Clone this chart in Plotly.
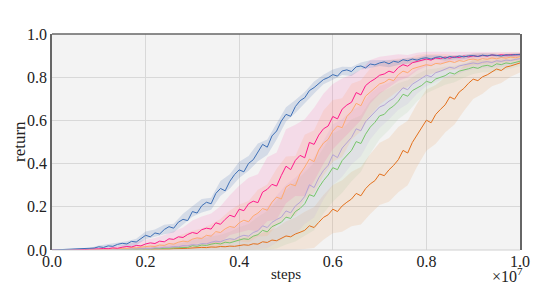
import plotly.graph_objects as go

# x in steps (101 points, 0 .. 1e7)
steps = [i * 1e5 for i in range(101)]
band_steps = [i * 2e5 for i in range(51)]

blue = [0.000,0.001,0.002,0.001,0.003,0.004,0.003,0.006,0.005,0.009,
        0.015,0.012,0.019,0.017,0.026,0.031,0.028,0.040,0.037,0.052,
        0.068,0.061,0.079,0.074,0.095,0.108,0.101,0.129,0.142,0.136,
        0.178,0.171,0.205,0.221,0.214,0.262,0.285,0.274,0.318,0.349,
        0.371,0.362,0.401,0.418,0.452,0.489,0.476,0.528,0.551,0.597,
        0.628,0.619,0.664,0.691,0.705,0.738,0.752,0.771,0.789,0.798,
        0.812,0.805,0.829,0.834,0.826,0.848,0.852,0.843,0.861,0.857,
        0.866,0.871,0.862,0.874,0.869,0.881,0.876,0.884,0.879,0.887,
        0.890,0.884,0.892,0.895,0.887,0.896,0.891,0.898,0.894,0.899,
        0.900,0.896,0.902,0.899,0.903,0.901,0.898,0.904,0.902,0.905,
        0.904]
pink = [0.000,0.000,0.001,0.001,0.002,0.001,0.003,0.002,0.004,0.003,
        0.005,0.007,0.006,0.010,0.008,0.013,0.016,0.014,0.021,0.019,
        0.028,0.033,0.030,0.041,0.038,0.052,0.049,0.061,0.058,0.072,
        0.081,0.076,0.094,0.101,0.097,0.126,0.119,0.142,0.161,0.153,
        0.189,0.182,0.214,0.226,0.219,0.268,0.281,0.304,0.296,0.345,
        0.388,0.372,0.415,0.438,0.427,0.498,0.489,0.532,0.561,0.574,
        0.618,0.607,0.652,0.671,0.684,0.729,0.718,0.761,0.779,0.792,
        0.809,0.815,0.828,0.821,0.845,0.858,0.851,0.867,0.872,0.878,
        0.884,0.879,0.889,0.886,0.893,0.888,0.895,0.891,0.898,0.894,
        0.899,0.896,0.901,0.898,0.903,0.900,0.904,0.901,0.905,0.903,
        0.906]
peach = [0.000,0.000,0.000,0.001,0.001,0.000,0.002,0.001,0.002,0.003,
         0.003,0.004,0.003,0.006,0.005,0.008,0.007,0.011,0.010,0.013,
         0.015,0.018,0.016,0.023,0.021,0.030,0.027,0.036,0.041,0.038,
         0.050,0.056,0.053,0.068,0.064,0.085,0.081,0.098,0.109,0.104,
         0.126,0.138,0.131,0.158,0.171,0.192,0.184,0.221,0.245,0.236,
         0.291,0.305,0.297,0.352,0.384,0.421,0.409,0.463,0.495,0.512,
         0.551,0.574,0.566,0.618,0.641,0.679,0.668,0.712,0.731,0.748,
         0.769,0.776,0.791,0.784,0.812,0.828,0.821,0.839,0.846,0.851,
         0.858,0.853,0.864,0.861,0.869,0.874,0.868,0.877,0.873,0.881,
         0.884,0.879,0.886,0.883,0.889,0.885,0.891,0.888,0.893,0.890,
         0.895]
lavender = [0.000,0.000,0.000,0.000,0.001,0.000,0.001,0.001,0.000,0.002,
            0.001,0.002,0.002,0.003,0.002,0.004,0.003,0.005,0.006,0.005,
            0.008,0.007,0.010,0.009,0.013,0.012,0.016,0.015,0.020,0.019,
            0.025,0.023,0.030,0.028,0.036,0.041,0.038,0.047,0.052,0.049,
            0.061,0.068,0.064,0.081,0.089,0.112,0.104,0.128,0.141,0.152,
            0.181,0.172,0.204,0.221,0.248,0.302,0.289,0.334,0.368,0.392,
            0.441,0.428,0.472,0.498,0.521,0.561,0.552,0.594,0.618,0.637,
            0.662,0.671,0.689,0.702,0.725,0.751,0.742,0.768,0.781,0.797,
            0.809,0.802,0.821,0.828,0.836,0.846,0.841,0.852,0.857,0.861,
            0.866,0.862,0.869,0.872,0.868,0.876,0.873,0.879,0.877,0.882,
            0.886]
green = [0.000,0.000,0.000,0.000,0.000,0.001,0.000,0.001,0.000,0.001,
         0.001,0.000,0.002,0.001,0.002,0.002,0.003,0.002,0.004,0.003,
         0.005,0.004,0.006,0.007,0.006,0.009,0.010,0.009,0.013,0.012,
         0.020,0.017,0.023,0.021,0.027,0.031,0.028,0.036,0.033,0.041,
         0.046,0.052,0.049,0.064,0.071,0.091,0.084,0.108,0.119,0.128,
         0.152,0.146,0.178,0.192,0.214,0.256,0.248,0.289,0.321,0.347,
         0.381,0.372,0.414,0.438,0.461,0.502,0.493,0.536,0.569,0.591,
         0.621,0.628,0.652,0.667,0.689,0.721,0.712,0.738,0.751,0.762,
         0.781,0.774,0.792,0.799,0.807,0.821,0.815,0.828,0.832,0.839,
         0.846,0.841,0.851,0.855,0.849,0.862,0.858,0.866,0.863,0.870,
         0.874]
orange = [0.000,0.000,0.000,0.000,0.000,0.000,0.001,0.000,0.000,0.001,
          0.000,0.001,0.001,0.000,0.002,0.001,0.002,0.001,0.002,0.003,
          0.003,0.002,0.004,0.003,0.005,0.004,0.006,0.005,0.007,0.008,
          0.010,0.009,0.012,0.011,0.014,0.013,0.016,0.015,0.018,0.017,
          0.020,0.024,0.022,0.029,0.027,0.038,0.035,0.046,0.043,0.056,
          0.065,0.061,0.074,0.082,0.091,0.112,0.104,0.128,0.151,0.163,
          0.189,0.178,0.204,0.221,0.236,0.262,0.251,0.284,0.306,0.321,
          0.352,0.344,0.371,0.392,0.418,0.461,0.449,0.498,0.531,0.562,
          0.601,0.589,0.628,0.651,0.672,0.709,0.698,0.731,0.748,0.772,
          0.791,0.784,0.802,0.811,0.826,0.838,0.831,0.847,0.852,0.858,
          0.866]

# band half-widths (51 points, every 2e5 steps)
blue_w = [0.000,0.001,0.002,0.003,0.004,0.006,0.008,0.010,0.012,0.015,
          0.018,0.016,0.022,0.020,0.026,0.024,0.031,0.028,0.035,0.033,
          0.038,0.034,0.041,0.036,0.039,0.033,0.030,0.026,0.028,0.022,
          0.024,0.019,0.021,0.016,0.018,0.014,0.016,0.012,0.014,0.011,
          0.012,0.010,0.011,0.009,0.010,0.008,0.009,0.007,0.008,0.007,0.008]
pink_w = [0.000,0.001,0.002,0.003,0.004,0.006,0.008,0.010,0.013,0.016,
          0.020,0.026,0.031,0.038,0.046,0.055,0.061,0.072,0.084,0.092,
          0.108,0.121,0.132,0.148,0.155,0.171,0.165,0.178,0.169,0.162,
          0.151,0.142,0.128,0.117,0.101,0.086,0.074,0.061,0.052,0.041,
          0.034,0.029,0.024,0.021,0.018,0.016,0.014,0.013,0.012,0.011,0.010]
peach_w = [0.000,0.000,0.001,0.002,0.003,0.004,0.005,0.007,0.009,0.011,
           0.014,0.018,0.022,0.027,0.033,0.039,0.046,0.055,0.063,0.074,
           0.085,0.096,0.108,0.119,0.131,0.142,0.138,0.149,0.145,0.151,
           0.143,0.136,0.129,0.118,0.109,0.096,0.087,0.075,0.066,0.057,
           0.049,0.043,0.038,0.034,0.030,0.027,0.025,0.023,0.021,0.020,0.019]
lavender_w = [0.000,0.000,0.001,0.001,0.002,0.003,0.004,0.005,0.006,0.008,
              0.010,0.012,0.015,0.018,0.022,0.026,0.031,0.037,0.044,0.052,
              0.061,0.072,0.084,0.096,0.108,0.121,0.132,0.128,0.139,0.134,
              0.141,0.133,0.125,0.118,0.106,0.097,0.085,0.076,0.066,0.058,
              0.051,0.045,0.040,0.036,0.032,0.029,0.027,0.025,0.023,0.022,0.021]
green_w = [0.000,0.000,0.001,0.001,0.002,0.002,0.003,0.004,0.005,0.007,
           0.009,0.011,0.014,0.017,0.021,0.025,0.030,0.036,0.043,0.051,
           0.060,0.071,0.083,0.097,0.112,0.126,0.139,0.148,0.156,0.152,
           0.158,0.149,0.143,0.131,0.122,0.108,0.097,0.084,0.074,0.063,
           0.055,0.048,0.042,0.038,0.034,0.031,0.028,0.026,0.025,0.023,0.022]
orange_w = [0.000,0.000,0.000,0.001,0.001,0.002,0.002,0.003,0.004,0.005,
            0.006,0.007,0.009,0.011,0.013,0.015,0.018,0.021,0.025,0.029,
            0.034,0.039,0.045,0.052,0.060,0.068,0.077,0.086,0.095,0.104,
            0.112,0.119,0.126,0.133,0.139,0.144,0.148,0.151,0.149,0.146,
            0.142,0.136,0.128,0.117,0.104,0.092,0.079,0.068,0.058,0.050,0.044]

x_ticks = [0, 2e6, 4e6, 6e6, 8e6, 1e7]
x_tick_labels = ["0.0", "0.2", "0.4", "0.6", "0.8", "1.0"]
y_ticks = [0, 0.2, 0.4, 0.6, 0.8, 1.0]
y_tick_labels = ["0.0", "0.2", "0.4", "0.6", "0.8", "1.0"]

series = [
    ("orange", orange, orange_w, "#e3701c", "rgba(235,130,50,0.13)"),
    ("green", green, green_w, "#77c66a", "rgba(150,190,140,0.13)"),
    ("lavender", lavender, lavender_w, "#b5a3d6", "rgba(185,165,220,0.15)"),
    ("peach", peach, peach_w, "#ffaa70", "rgba(255,170,110,0.18)"),
    ("pink", pink, pink_w, "#ff1a8c", "rgba(255,60,160,0.13)"),
    ("blue", blue, blue_w, "#3d6fb6", "rgba(70,110,180,0.18)"),
]

fig = go.Figure()
for name, mean, w, lc, fc in series:
    m2 = mean[::2]
    up = [min(m + d, 0.97) for m, d in zip(m2, w)]
    lo = [max(m - d, 0.0) for m, d in zip(m2, w)]
    fig.add_trace(go.Scatter(
        x=band_steps + band_steps[::-1], y=up + lo[::-1],
        fill="toself", fillcolor=fc, line=dict(width=0),
        mode="lines", hoverinfo="skip", showlegend=False))
for name, mean, w, lc, fc in series:
    fig.add_trace(go.Scatter(
        x=steps, y=mean, mode="lines", name=name,
        line=dict(color=lc, width=1), showlegend=False))

font_family = "Liberation Serif"
fig.update_layout(
    width=532, height=275,
    margin=dict(l=44, r=20, t=26, b=33, autoexpand=False),
    paper_bgcolor="white", plot_bgcolor="#f3f3f3",
    font=dict(family=font_family, size=16, color="#222"),
    xaxis=dict(range=[0, 1e7], tickvals=x_ticks, ticktext=x_tick_labels,
               showgrid=True, gridcolor="#d8d8d8", gridwidth=1,
               zeroline=False, showline=False, ticks="", automargin=False,
               tickfont=dict(family=font_family, size=16)),
    yaxis=dict(range=[0, 1.0], tickvals=y_ticks, ticktext=y_tick_labels,
               showgrid=True, gridcolor="#d8d8d8", gridwidth=1,
               zeroline=False, showline=True, linecolor="#666", linewidth=1.5,
               mirror=True, ticks="", automargin=False,
               tickfont=dict(family=font_family, size=16)),
    shapes=[
        dict(type="line", xref="paper", yref="paper", x0=0, x1=1, y0=1, y1=1,
             line=dict(color="#666", width=1.5)),
        dict(type="line", xref="paper", yref="paper", x0=0, x1=1, y0=0, y1=0,
             line=dict(color="#d0d0d0", width=1)),
    ],
    annotations=[
        dict(text="steps", xref="paper", yref="paper", x=0.5, y=-0.111,
             xanchor="center", yanchor="middle", showarrow=False,
             font=dict(family=font_family, size=15)),
        dict(text="return", xref="paper", yref="paper", x=-0.0705, y=0.5,
             xanchor="center", yanchor="middle", textangle=-90, showarrow=False,
             font=dict(family=font_family, size=17)),
        dict(text="×10<sup>7</sup>", xref="paper", yref="paper", x=1.0, y=-0.118,
             xanchor="right", yanchor="middle", xshift=5, showarrow=False,
             font=dict(family=font_family, size=16)),
    ],
)
fig.write_html("out.html")
